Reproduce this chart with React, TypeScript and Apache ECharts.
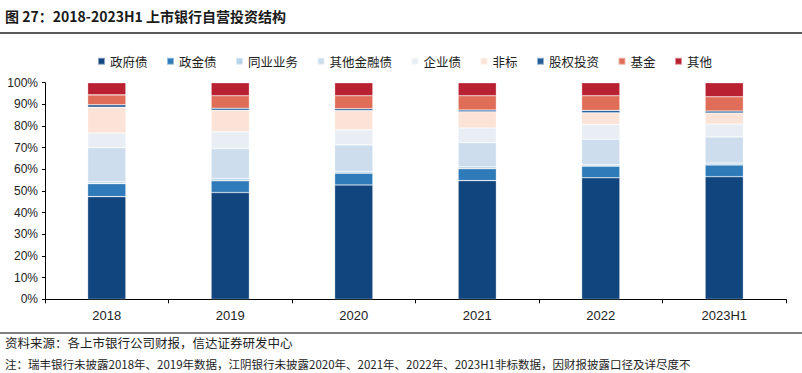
import React, { useEffect, useRef } from "react";
import * as echarts from "echarts";

const categories = ["2018", "2019", "2020", "2021", "2022", "2023H1"];
const seriesNames = ["政府债", "政金债", "同业业务", "其他金融债", "企业债", "非标", "股权投资", "基金", "其他"];
const govBonds = [47.4, 49.3, 52.8, 54.8, 56.1, 56.6];
const policyBankBonds = [6.0, 5.4, 5.4, 5.5, 5.4, 5.4];
const interbank = [0.9, 1.1, 0.8, 0.9, 0.6, 0.9];
const otherFinBonds = [15.7, 13.8, 12.3, 11.1, 11.8, 12.0];
const corpBonds = [6.8, 7.7, 6.9, 6.8, 6.8, 6.0];
const nonStandard = [11.9, 10.0, 8.9, 7.5, 5.4, 5.1];
const equity = [1.1, 0.9, 0.9, 0.8, 1.1, 0.9];
const funds = [4.6, 5.8, 6.0, 6.6, 6.8, 6.6];
const others = [5.6, 6.0, 6.0, 6.0, 6.0, 6.5];
const yTicks = [0, 10, 20, 30, 40, 50, 60, 70, 80, 90, 100];

const seriesData = [govBonds, policyBankBonds, interbank, otherFinBonds, corpBonds, nonStandard, equity, funds, others];
const colors = ["#11457d", "#2f7ab8", "#b6d4e9", "#cddded", "#e8eef3", "#fbe3d7", "#225d97", "#e06d58", "#b92031"];

const titleText = "图 27：2018-2023H1 上市银行自营投资结构";
const sourceText = "资料来源：各上市银行公司财报，信达证券研发中心";
const noteText = "注：瑞丰银行未披露2018年、2019年数据，江阴银行未披露2020年、2021年、2022年、2023H1非标数据，因财报披露口径及详尽度不";

export default function App() {
  const ref = useRef<HTMLDivElement>(null);
  useEffect(() => {
    if (!ref.current) return;
    const chart = echarts.init(ref.current, null, { renderer: "svg" });
    const cjk = "'Noto Sans CJK SC', sans-serif";
    chart.setOption({
      animation: false,
      backgroundColor: "#ffffff",
      color: colors,
      legend: {
        data: seriesNames,
        left: 92,
        top: 50,
        itemWidth: 7,
        itemHeight: 7,
        itemGap: 18.5,
        icon: "rect",
        textStyle: { fontSize: 12.5, color: "#222", fontFamily: cjk },
      },
      grid: { left: 45, right: 16, top: 82.7, bottom: 73.7, containLabel: false },
      xAxis: {
        type: "category",
        data: categories,
        axisLine: { lineStyle: { color: "#000", width: 1 } },
        axisTick: { show: true, length: 4, lineStyle: { color: "#000" } },
        axisLabel: { fontSize: 13, color: "#222", margin: 10, fontFamily: "'Liberation Sans', Arial, sans-serif" },
      },
      yAxis: {
        type: "value",
        min: yTicks[0],
        max: yTicks[yTicks.length - 1],
        interval: 10,
        axisLine: { show: true, lineStyle: { color: "#000", width: 1 } },
        axisTick: { show: true, length: 3, lineStyle: { color: "#000" } },
        splitLine: { show: false },
        axisLabel: { formatter: "{value}%", fontSize: 12, color: "#222", margin: 7, fontFamily: "'Liberation Sans', Arial, sans-serif" },
      },
      series: seriesNames.map((name, i) => ({
        name,
        type: "bar",
        stack: "total",
        barWidth: "31%",
        data: seriesData[i],
        itemStyle: { color: colors[i], borderColor: "rgba(255,255,255,0.5)", borderWidth: 0.6 },
      })),
      graphic: [
        {
          type: "text",
          left: 5,
          top: 9,
          style: { text: titleText, fontSize: 14, fontWeight: "bold", fill: "#1a1a1a", fontFamily: cjk },
        },
        {
          type: "line",
          shape: { x1: 0, y1: 33, x2: 802, y2: 33 },
          style: { stroke: "#222", lineWidth: 1.5 },
        },
        {
          type: "line",
          shape: { x1: 0, y1: 333, x2: 802, y2: 333 },
          style: { stroke: "#555", lineWidth: 1.5 },
        },
        {
          type: "text",
          left: 5,
          top: 336,
          style: { text: sourceText, fontSize: 12.5, fill: "#222", fontFamily: cjk },
        },
        {
          type: "text",
          left: 5,
          top: 358,
          style: { text: noteText, fontSize: 11.5, fill: "#222", fontFamily: cjk },
        },
      ],
    });
    return () => chart.dispose();
  }, []);
  return (
    <div
      ref={ref}
      style={{ position: "fixed", left: 0, top: 0, width: 802, height: 373, background: "#fff" }}
    />
  );
}
